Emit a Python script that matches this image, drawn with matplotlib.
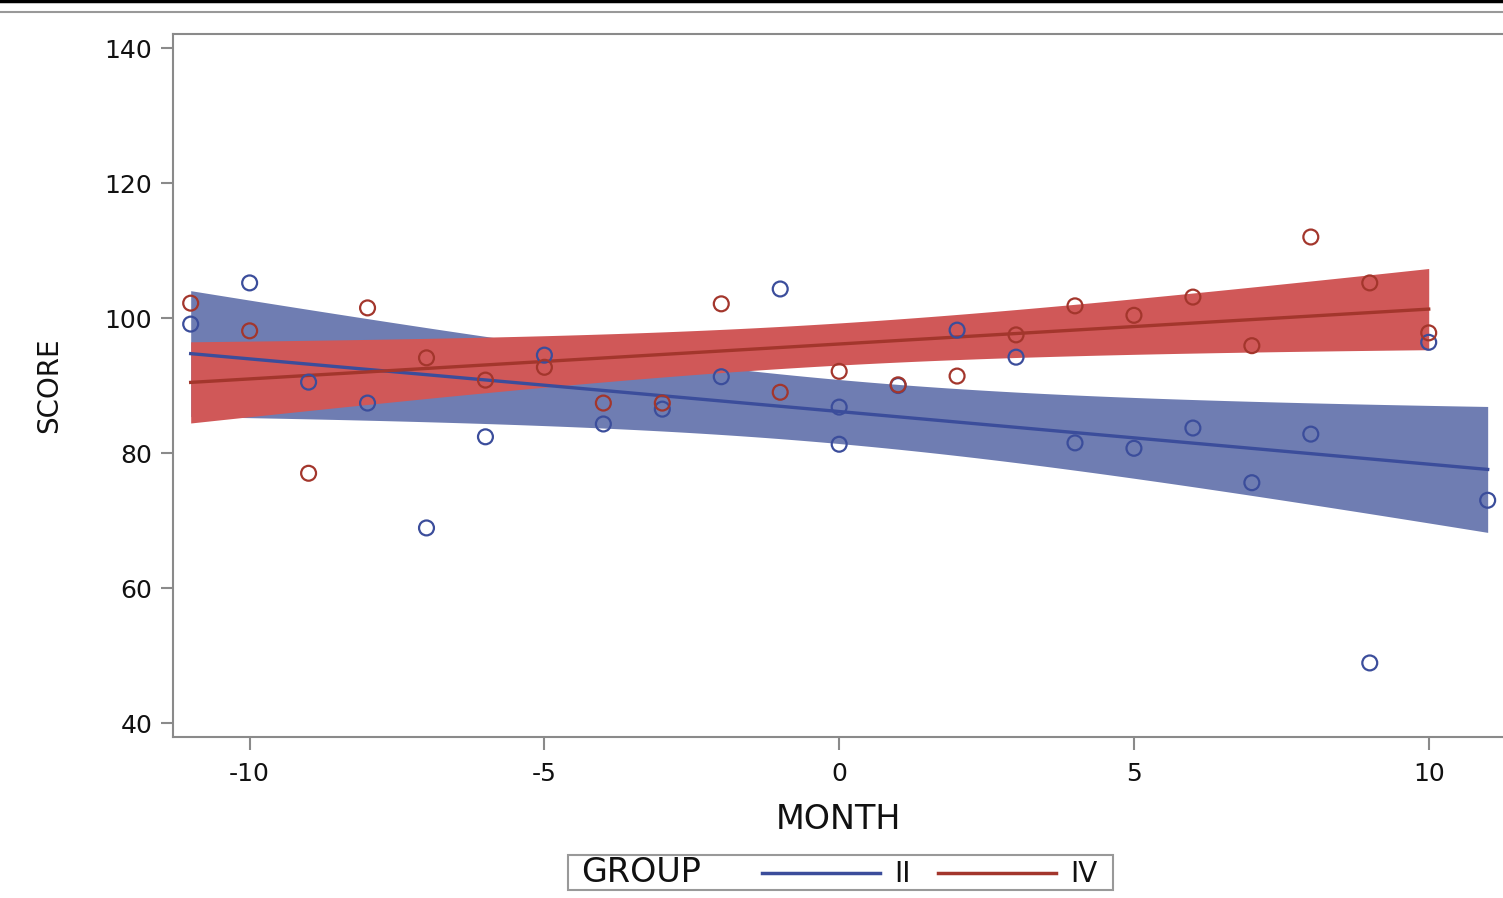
import numpy as np
import matplotlib
matplotlib.use('Agg')
import matplotlib.pyplot as plt
from matplotlib.lines import Line2D
from matplotlib.patches import Rectangle

plt.rcParams['font.family'] = ['DejaVu Sans']
plt.rcParams['axes.unicode_minus'] = False

# data
month_ii = [-11, -10, -9, -8, -7, -6, -5, -4, -3, -2, -1, 0, 0, 1, 2, 3, 4, 5, 6, 7, 8, 9, 10, 11]
score_ii = [99.1, 105.2, 90.5, 87.4, 68.9, 82.4, 94.5, 84.3, 86.5, 91.3, 104.3, 86.8, 81.3,
            90.0, 98.2, 94.2, 81.5, 80.7, 83.7, 75.6, 82.8, 48.9, 96.4, 73.0]
month_iv = [-11, -10, -9, -8, -7, -6, -5, -4, -3, -2, -1, 0, 1, 2, 3, 4, 5, 6, 7, 8, 9, 10]
score_iv = [102.2, 98.1, 77.0, 101.5, 94.1, 90.8, 92.7, 87.4, 87.4, 102.1, 89.0, 92.1,
            90.1, 91.4, 97.5, 101.8, 100.4, 103.1, 95.9, 112.0, 105.2, 97.8]

blue_fill = '#6f7db2'
blue_line = '#3b4d9b'
red_fill = '#d05858'
red_line = '#a3362c'


def fit_band(x, y, n=100):
    x = np.asarray(x, float)
    y = np.asarray(y, float)
    b, a = np.polyfit(x, y, 1)
    xs = np.linspace(x.min(), x.max(), n)
    resid = y - (a + b * x)
    k = len(x)
    s = np.sqrt(np.sum(resid ** 2) / (k - 2))
    sxx = np.sum((x - x.mean()) ** 2)
    t = 2.07  # approx t quantile
    se = s * np.sqrt(1.0 / k + (xs - x.mean()) ** 2 / sxx)
    yhat = a + b * xs
    return xs, yhat, yhat - t * se, yhat + t * se


fig = plt.figure(figsize=(15.03, 8.98), dpi=100)
ax = fig.add_axes([0.1151, 0.1793, 0.8849, 0.7828])

xs_b, yh_b, lo_b, hi_b = fit_band(month_ii, score_ii)
xs_r, yh_r, lo_r, hi_r = fit_band(month_iv, score_iv)

ax.fill_between(xs_b, lo_b, hi_b, color=blue_fill, lw=0, zorder=1)
ax.fill_between(xs_r, lo_r, hi_r, color=red_fill, lw=0, zorder=2)
ax.plot(xs_b, yh_b, color=blue_line, lw=2.4, zorder=3)
ax.plot(xs_r, yh_r, color=red_line, lw=2.4, zorder=3)
ax.scatter(month_ii, score_ii, s=115, facecolors='none', edgecolors=blue_line, lw=1.6, zorder=4)
ax.scatter(month_iv, score_iv, s=115, facecolors='none', edgecolors=red_line, lw=1.6, zorder=4)

ax.set_xlim(-11.3, 11.26)
ax.set_ylim(37.93, 142.07)
ax.set_xticks([-10, -5, 0, 5, 10])
ax.set_yticks([40, 60, 80, 100, 120, 140])
ax.tick_params(direction='out', length=9, width=1.5, color='#8a8a8a',
               labelsize=18, labelcolor='#111111')
ax.tick_params(axis='y', pad=6)
ax.tick_params(axis='x', pad=9)
for sp in ['left', 'bottom', 'top']:
    ax.spines[sp].set_color('#8a8a8a')
    ax.spines[sp].set_linewidth(1.5)
ax.spines['right'].set_visible(False)

ax.set_xlabel('MONTH', fontsize=24, color='#111111', labelpad=12)
ax.set_ylabel('SCORE', fontsize=20, color='#111111', labelpad=30)

# top rules
fig.add_artist(Line2D([0, 1], [0.9985, 0.9985], color='black', lw=2.5))
fig.add_artist(Line2D([0, 1], [0.987, 0.987], color='#999999', lw=1.5))

# legend box
fig.add_artist(Rectangle((568 / 1503, 1 - 890 / 898), 545 / 1503, 35 / 898,
                         transform=fig.transFigure, fill=False, ec='#999999', lw=1.5))
fig.text(581 / 1503, 1 - 873 / 898, 'GROUP', fontsize=24, va='center', color='#111111')
fig.add_artist(Line2D([762 / 1503, 880 / 1503], [1 - 873 / 898] * 2, color=blue_line, lw=2.5))
fig.text(894 / 1503, 1 - 874 / 898, 'II', fontsize=20, va='center', color='#111111')
fig.add_artist(Line2D([938 / 1503, 1056 / 1503], [1 - 873 / 898] * 2, color=red_line, lw=2.5))
fig.text(1070 / 1503, 1 - 874 / 898, 'IV', fontsize=20, va='center', color='#111111')

fig.savefig('out.png', dpi=100)
